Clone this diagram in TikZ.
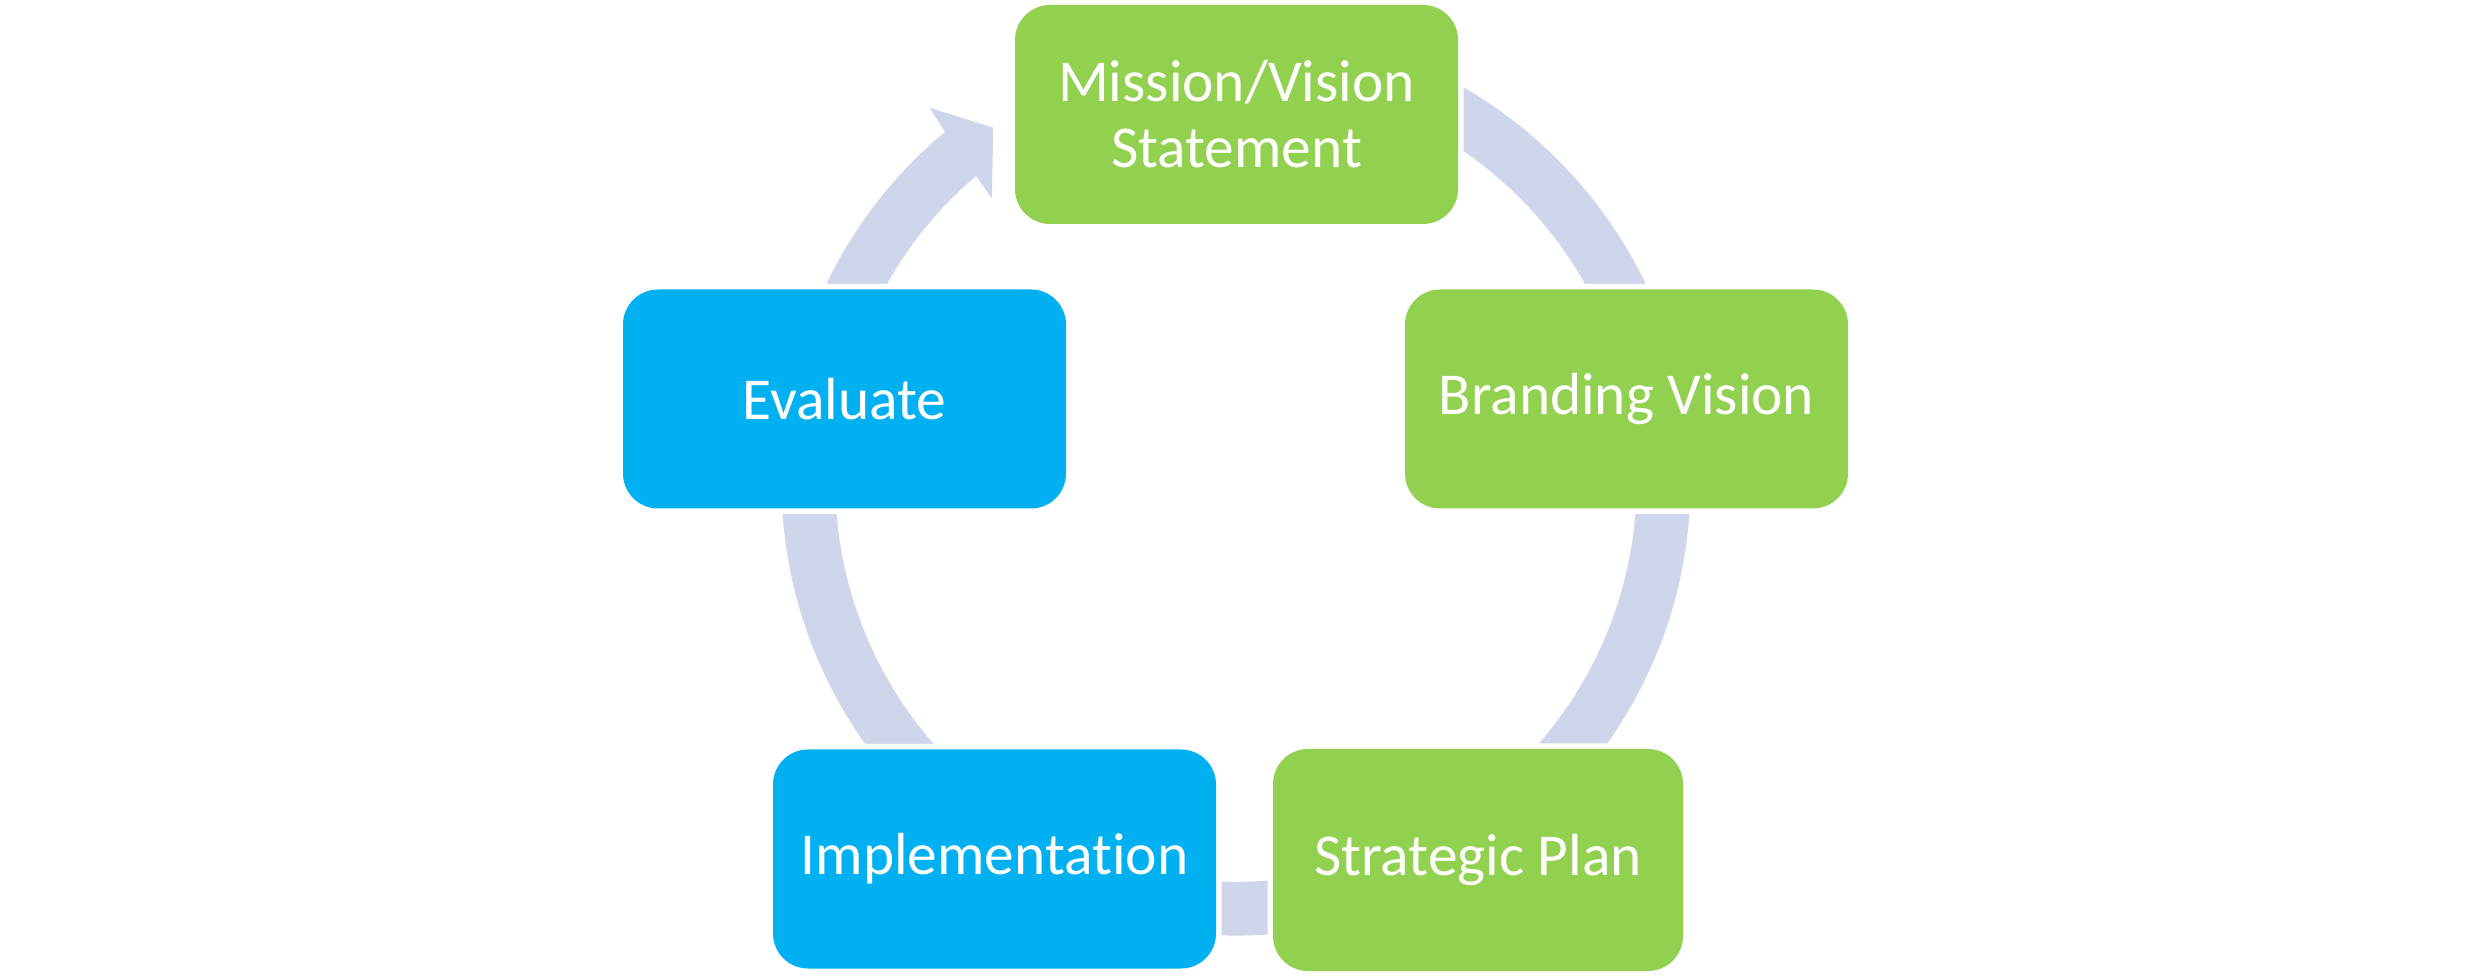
\documentclass[tikz,border=0pt]{standalone}
\usepackage{fontspec}
\setmainfont{Carlito}[Ligatures={NoCommon,NoContextual}]
\usepackage{tikz}
\usetikzlibrary{calc, positioning}
\definecolor{stagegreen}{HTML}{92D050}
\definecolor{stageblue}{HTML}{00B0F0}
\definecolor{ringblue}{HTML}{CFD5EA}
\pgfdeclarelayer{bg}
\pgfsetlayers{bg,main}

\begin{document}
\begin{tikzpicture}[stage/.style={rounded corners=0.35cm, minimum width=4.43cm, minimum height=2.19cm, inner sep=0pt, text=white, align=center, font=\fontsize{16.9}{18.8}\selectfont, preaction={draw=white, line width=0.11cm}},
  gstage/.style={stage, fill=stagegreen}, bstage/.style={stage, fill=stageblue}]
\useasboundingbox (0,0) rectangle (24.72,9.76);
\node[gstage] (mv) at (12.365,8.615) {Mission/Vision\\Statement};
\node[gstage] (bv) at (16.265,5.77) {Branding Vision};
\node[gstage, minimum width=4.10cm, minimum height=2.22cm] (sp) at (14.78,1.16) {Strategic Plan};
\node[bstage] (im) at (9.945,1.17) {Implementation};
\node[bstage] (ev) at (8.445,5.77) {Evaluate};
\coordinate (hub) at (12.36,4.95);
% ring behind the stages, arrow into (mv)
\begin{pgfonlayer}{bg}
\fill[ringblue] ([shift={(90:4.546)}]hub) arc[start angle=90, end angle=-230.2, radius=4.546]
  -- ([shift={(129.4:4.834)}]hub) -- ([shift={(124.5:4.286)}]hub)
  -- ([shift={(130.8:3.736)}]hub) -- ([shift={(130.45:4.008)}]hub)
  arc[start angle=-229.55, end angle=90, radius=4.008] -- cycle;
\end{pgfonlayer}
\end{tikzpicture}
\end{document}
